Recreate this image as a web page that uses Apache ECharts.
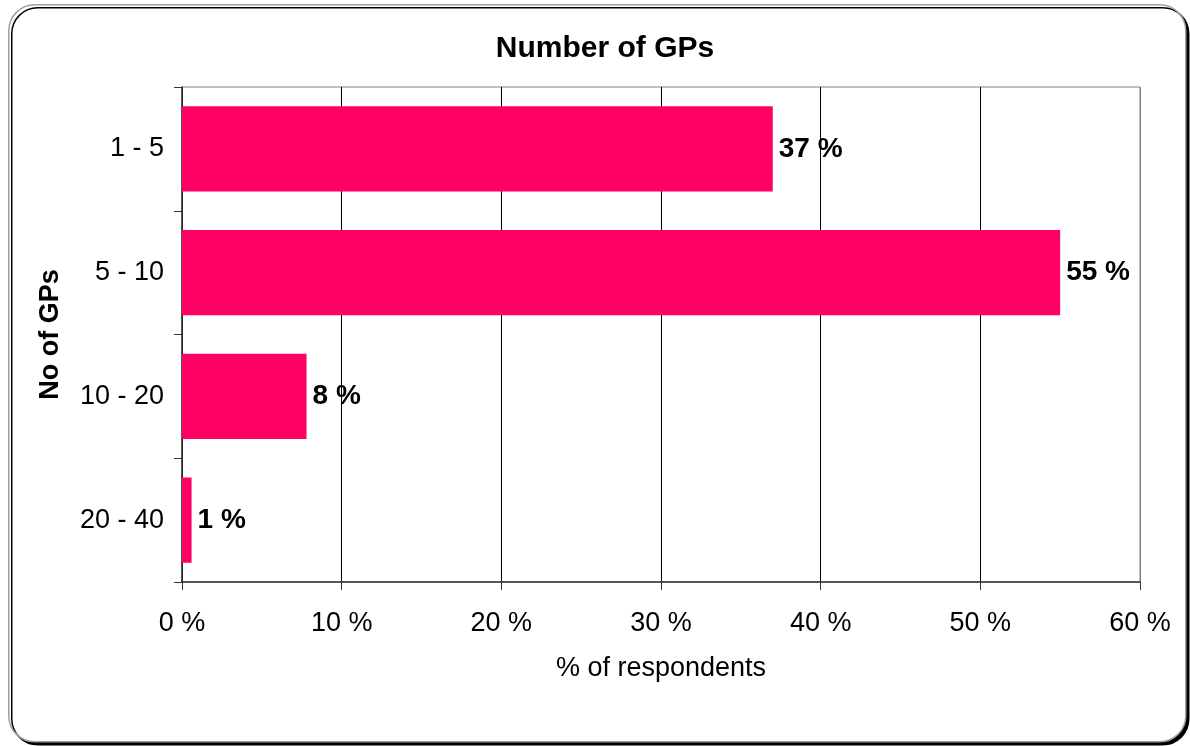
<!DOCTYPE html>
<html>
<head>
<meta charset="utf-8">
<script src="https://cdn.jsdelivr.net/npm/echarts@6/dist/echarts.min.js"></script>
<style>
  html, body { margin: 0; padding: 0; background: #fff; }
  #chart { width: 1190px; height: 746px; }
</style>
</head>
<body>
<div id="chart"></div>
<script>
// categories (top to bottom) and share of respondents
var categories = ["1 - 5", "5 - 10", "10 - 20", "20 - 40"];
var shares = [37, 55, 7.8, 0.6];
var xTicks = [0, 10, 20, 30, 40, 50, 60];

var font = "'Liberation Sans', Arial, sans-serif";

var chart = echarts.init(document.getElementById("chart"));
chart.setOption({
  animation: false,
  textStyle: { fontFamily: font },
  graphic: [
    {
      type: "rect",
      left: 8,
      top: 4,
      shape: { width: 1177, height: 737, r: 26 },
      style: {
        fill: "#fff",
        stroke: "#a0a0a0",
        lineWidth: 1.5,
        shadowColor: "#000",
        shadowOffsetX: 3,
        shadowOffsetY: 3,
        shadowBlur: 0
      },
      z: -10
    }
  ],
  title: {
    text: "Number of GPs",
    left: 600,
    textAlign: "center",
    top: 29,
    textStyle: { fontSize: 30, fontWeight: "bold", color: "#000", fontFamily: font }
  },
  grid: {
    left: 182,
    right: 50,
    top: 87,
    bottom: 164,
    show: true,
    borderColor: "#808080",
    borderWidth: 1
  },
  xAxis: {
    type: "value",
    min: xTicks[0],
    max: xTicks[xTicks.length - 1],
    interval: 10,
    name: "% of respondents",
    nameLocation: "middle",
    nameGap: 73,
    nameTextStyle: { fontSize: 27, color: "#000", fontFamily: font },
    axisLine: { show: true, lineStyle: { color: "#333", width: 1.5 } },
    axisTick: { show: true, length: 8, lineStyle: { color: "#333" } },
    axisLabel: {
      fontSize: 27,
      color: "#000",
      margin: 28,
      formatter: function (v) { return v + " %"; }
    },
    splitLine: {
      show: true,
      lineStyle: { color: ["#000", "#000", "#000", "#000", "#000", "#000", "#808080"], width: 1 }
    }
  },
  yAxis: {
    type: "category",
    data: categories,
    inverse: true,
    name: "No of GPs",
    nameLocation: "middle",
    nameGap: 118,
    nameRotate: 90,
    nameTextStyle: { fontSize: 27, fontWeight: "bold", color: "#000", fontFamily: font },
    axisLine: { show: true, lineStyle: { color: "#333", width: 1.5 } },
    axisTick: { show: true, length: 8, lineStyle: { color: "#333" } },
    axisLabel: { fontSize: 27, color: "#000", margin: 18 }
  },
  series: [
    {
      type: "bar",
      data: shares,
      barCategoryGap: "31%",
      itemStyle: { color: "#FF0066" },
      label: {
        show: true,
        position: "right",
        distance: 6,
        fontSize: 28,
        fontWeight: "bold",
        color: "#000",
        formatter: function (p) { return Math.round(p.value) + " %"; }
      }
    }
  ]
});
</script>
</body>
</html>
